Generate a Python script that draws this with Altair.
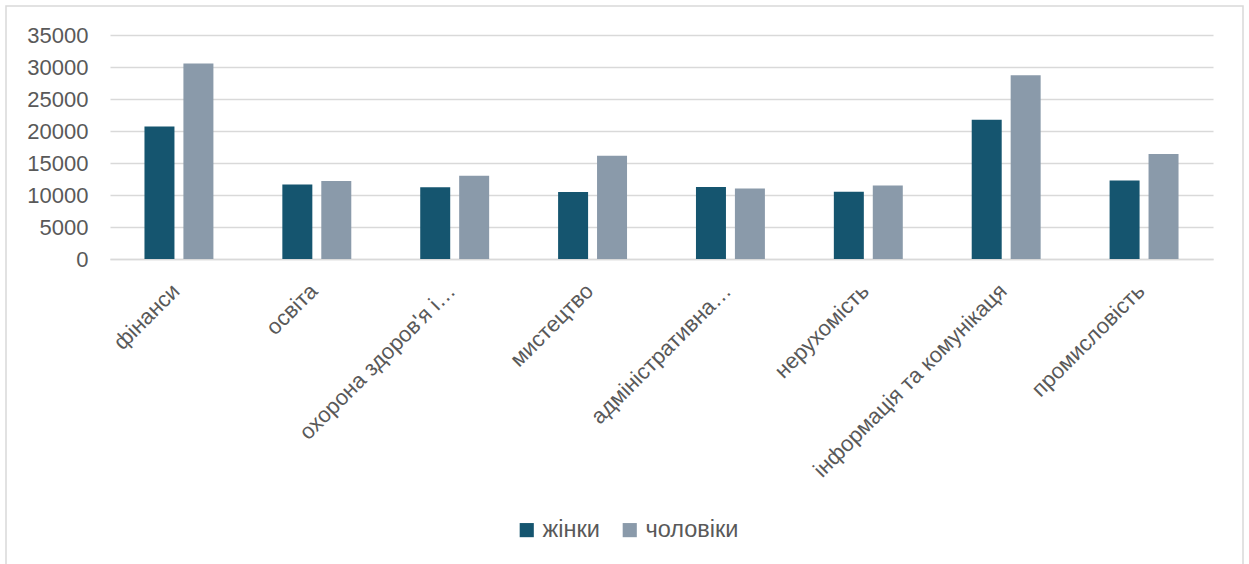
import altair as alt
import pandas as pd

# Average pay by sector, women vs men
categories = [
    "фінанси",
    "освіта",
    "охорона здоров'я і…",
    "мистецтво",
    "адміністративна…",
    "нерухомість",
    "інформація та комунікаця",
    "промисловість",
]
series = ["жінки", "чоловіки"]
women = [20700, 11650, 11200, 10450, 11250, 10500, 21750, 12250]
men = [30550, 12200, 13000, 16150, 11000, 11500, 28700, 16400]
colors = ["#15556F", "#8A9AAA"]
y_ticks = [0, 5000, 10000, 15000, 20000, 25000, 30000, 35000]

rows = []
for cat, w, m in zip(categories, women, men):
    rows.append({"category": cat, "series": series[0], "value": w})
    rows.append({"category": cat, "series": series[1], "value": m})
df = pd.DataFrame(rows)

FONT = "Liberation Sans"
TEXT = "#595959"
GRID = "#d9d9d9"

bars = alt.Chart(df).mark_bar().encode(
    x=alt.X(
        "category:N",
        sort=categories,
        scale=alt.Scale(paddingInner=0.5, paddingOuter=0.25),
        axis=alt.Axis(
            title=None,
            labelAngle=-45,
            labelFontSize=22,
            labelColor=TEXT,
            labelFont=FONT,
            labelPadding=21,
            labelOffset=-10,
            ticks=False,
            domainColor=GRID,
            domainWidth=1.5,
            labelLimit=400,
        ),
    ),
    xOffset=alt.XOffset(
        "series:N", sort=series, scale=alt.Scale(paddingInner=0.23, paddingOuter=0)
    ),
    y=alt.Y(
        "value:Q",
        scale=alt.Scale(domain=[0, 35000], nice=False),
        axis=alt.Axis(
            title=None,
            values=y_ticks,
            format="d",
            labelFontSize=22,
            labelColor=TEXT,
            labelFont=FONT,
            labelPadding=22,
            ticks=False,
            domain=False,
            gridColor=GRID,
            gridWidth=1.5,
        ),
    ),
    color=alt.Color(
        "series:N",
        sort=series,
        scale=alt.Scale(domain=series, range=colors),
        legend=alt.Legend(
            title=None,
            orient="none",
            direction="horizontal",
            legendX=405,
            legendY=483,
            symbolType="square",
            symbolSize=200,
            symbolStrokeWidth=0,
            labelFontSize=23.5,
            labelColor=TEXT,
            labelFont=FONT,
            columnPadding=18,
            labelOffset=4,
        ),
    ),
)

# Light outline around the whole chart
frame = alt.Chart(pd.DataFrame({"k": [0]})).mark_rect(
    fill="transparent", stroke=GRID, strokeWidth=1.5
).encode(
    x=alt.value(-104), x2=alt.value(1133), y=alt.value(-29), y2=alt.value(640)
)

chart = alt.layer(frame, bars).properties(
    width=1103,
    height=224,
    autosize=alt.AutoSizeParams(type="none"),
    padding={"left": 110, "top": 35, "right": 36, "bottom": 305},
    background="white",
).configure_view(stroke=None)

chart.save("out.html", embed_options={"renderer": "svg", "actions": False})
